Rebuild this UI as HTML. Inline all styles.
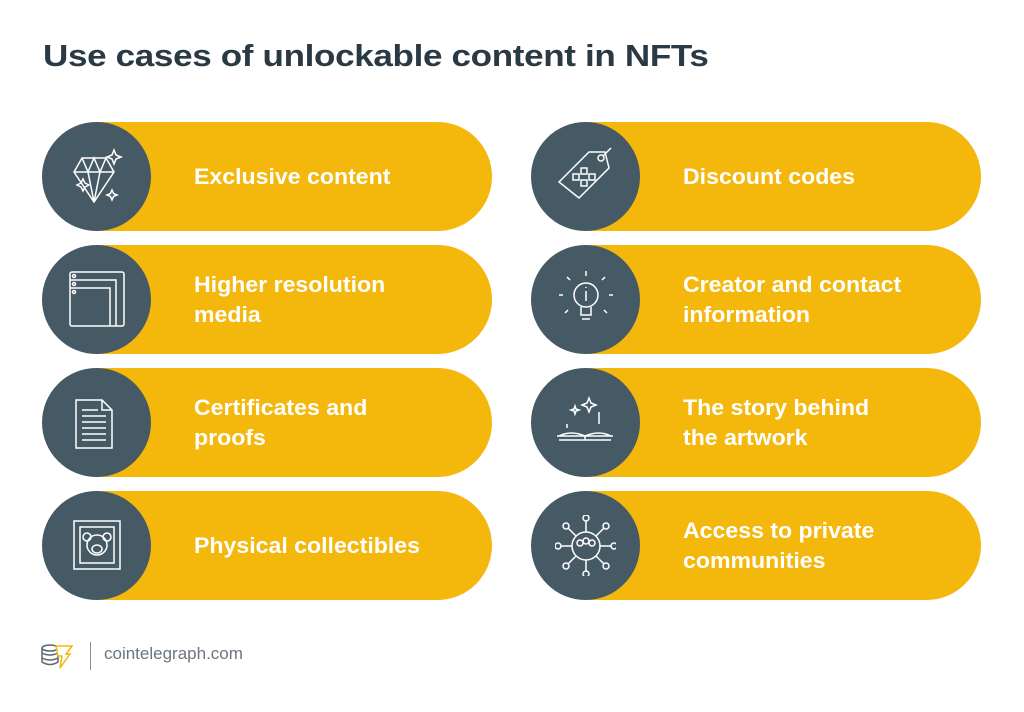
<!DOCTYPE html>
<html><head><meta charset="utf-8"><style>
body{margin:0;width:1024px;height:712px;background:#fff;position:relative;overflow:hidden;font-family:"Liberation Sans",sans-serif}
h1{position:absolute;left:43px;top:38px;margin:0;font-size:31px;font-weight:bold;color:#2a3a44;letter-spacing:-0.3px;transform:scaleX(1.13);transform-origin:left center;white-space:nowrap}
.p{position:absolute;width:450px;height:109px}
.y{position:absolute;left:55px;top:0;width:395px;height:109px;background:#f4b70c;border-radius:0 55px 55px 0}
.c{position:absolute;left:0;top:0;width:109px;height:109px;border-radius:50%;background:#465a66}
.c svg{position:absolute;left:24px;top:24px}
.t{position:absolute;left:152px;top:0;height:109px;display:flex;align-items:center;color:#fff;font-weight:bold;font-size:22px;line-height:30px;transform:scaleX(1.05);transform-origin:left center;white-space:nowrap}
.f{position:absolute;top:644px;font-size:17px;color:#6b7680}
</style></head><body>
<h1>Use cases of unlockable content in NFTs</h1>

<div class="p" style="left:42px;top:122px"><div class="y"></div><div class="c"><svg width="61" height="61" fill="none" stroke="#fff" stroke-width="1.5"><path d="M8 26 L16 12 L40 12 L48 26 L28 56 Z M8 26 H48 M16 12 L22 26 L28 56 L34 26 L40 12 M22 26 L28 12 L34 26"/><path d="M48 4 l2 5 5 2-5 2-2 5-2-5-5-2 5-2z M17 33 l2 4 4 2-4 2-2 4-2-4-4-2 4-2z M46 44 l1.5 3.5 3.5 1.5-3.5 1.5-1.5 3.5-1.5-3.5-3.5-1.5 3.5-1.5z"/></svg></div><div class="t">Exclusive content</div></div>

<div class="p" style="left:42px;top:245px"><div class="y"></div><div class="c"><svg width="61" height="61" fill="none" stroke="#fff" stroke-width="1.5"><rect x="4" y="3" width="54" height="54" rx="2"/><path d="M4 11 H50 V57 M4 19 H44 V57"/><circle cx="8" cy="7" r="1.5"/><circle cx="8" cy="15" r="1.5"/><circle cx="8" cy="23" r="1.5"/></svg></div><div class="t">Higher resolution<br>media</div></div>

<div class="p" style="left:42px;top:368px"><div class="y"></div><div class="c"><svg width="61" height="61" fill="none" stroke="#fff" stroke-width="1.5"><path d="M10 8 H36 L46 18 V56 H10 Z M36 8 V18 H46 M16 18 H32 M16 24 H40 M16 30 H40 M16 36 H40 M16 42 H40 M16 48 H40"/></svg></div><div class="t">Certificates and<br>proofs</div></div>

<div class="p" style="left:42px;top:491px"><div class="y"></div><div class="c"><svg width="61" height="61" fill="none" stroke="#fff" stroke-width="1.5"><rect x="8" y="6" width="46" height="48"/><rect x="14" y="12" width="34" height="36"/><circle cx="31" cy="30" r="10"/><circle cx="21" cy="22" r="4"/><circle cx="41" cy="22" r="4"/><ellipse cx="31" cy="34" rx="5" ry="4"/></svg></div><div class="t">Physical collectibles</div></div>

<div class="p" style="left:531px;top:122px"><div class="y"></div><div class="c"><svg width="61" height="61" fill="none" stroke="#fff" stroke-width="1.5"><path d="M4 36 L34 6 L50 6 L54 22 L24 52 Z"/><circle cx="46" cy="12" r="3"/><path d="M48 10 L56 2"/><rect x="18" y="28" width="6" height="6"/><rect x="26" y="22" width="6" height="6"/><rect x="26" y="34" width="6" height="6"/><rect x="34" y="28" width="6" height="6"/></svg></div><div class="t">Discount codes</div></div>

<div class="p" style="left:531px;top:245px"><div class="y"></div><div class="c"><svg width="61" height="61" fill="none" stroke="#fff" stroke-width="1.5"><circle cx="31" cy="26" r="12"/><path d="M26 38 V46 H36 V38 M27 50 H35 M31 22 V32 M31 18 v1 M31 2 V7 M12 8 l3 3 M50 8 l-3 3 M4 26 H8 M54 26 H58 M10 44 l3-3 M52 44 l-3-3"/></svg></div><div class="t">Creator and contact<br>information</div></div>

<div class="p" style="left:531px;top:368px"><div class="y"></div><div class="c"><svg width="61" height="61" fill="none" stroke="#fff" stroke-width="1.5"><path d="M2 44 H58 M4 44 Q16 38 30 44 Q44 38 56 44 M4 48 H56 M30 44 V48 M12 32 V36 M44 20 v12"/><path d="M34 6 l2 5 5 2-5 2-2 5-2-5-5-2 5-2z M20 14 l1 3 3 1-3 1-1 3-1-3-3-1 3-1z"/></svg></div><div class="t">The story behind<br>the artwork</div></div>

<div class="p" style="left:531px;top:491px"><div class="y"></div><div class="c"><svg width="61" height="61" fill="none" stroke="#fff" stroke-width="1.5"><circle cx="31" cy="31" r="14"/><circle cx="31" cy="3" r="3"/><circle cx="31" cy="59" r="3"/><circle cx="3" cy="31" r="3"/><circle cx="59" cy="31" r="3"/><circle cx="11" cy="11" r="3"/><circle cx="51" cy="11" r="3"/><circle cx="11" cy="51" r="3"/><circle cx="51" cy="51" r="3"/><path d="M31 6 V17 M31 45 V56 M6 31 H17 M45 31 H56 M13 13 L21 21 M49 13 L41 21 M13 49 L21 41 M49 49 L41 41"/><circle cx="25" cy="28" r="3"/><circle cx="37" cy="28" r="3"/><circle cx="31" cy="26" r="3"/></svg></div><div class="t">Access to private<br>communities</div></div>

<svg style="position:absolute;left:40px;top:642px" width="34" height="28" fill="none" stroke-width="1.5"><g stroke="#5a6670"><ellipse cx="10" cy="6" rx="8" ry="3"/><path d="M2 6 V20 Q10 25 18 20 V6 M2 11 Q10 15 18 11 M2 16 Q10 20 18 16"/></g><path d="M16 4 H32 L26 12 H30 L20 26 L22 14 H18 Z" stroke="#f4b70c" fill="#fff"/></svg>
<div style="position:absolute;left:90px;top:642px;width:1px;height:28px;background:#8a939a"></div>
<div class="f" style="left:104px">cointelegraph.com</div>
</body></html>
